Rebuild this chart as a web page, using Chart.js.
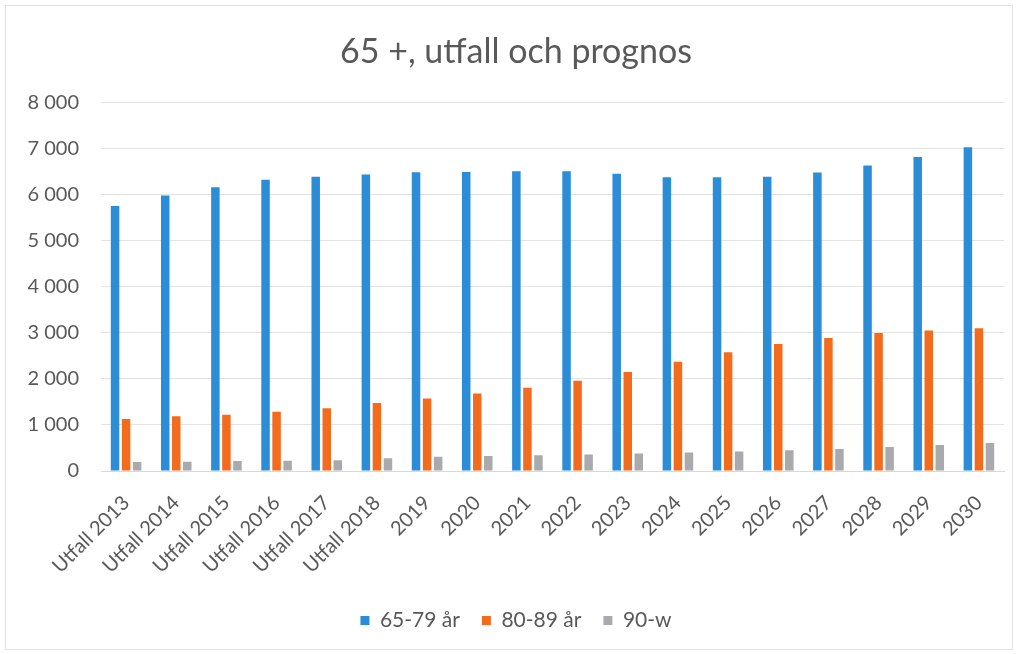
<!DOCTYPE html>
<html>
<head>
<meta charset="utf-8">
<script src="https://cdn.jsdelivr.net/npm/chart.js@4"></script>
<style>
  body { margin: 0; background: #fff; }
  #frame { position: absolute; left: 5px; top: 5px; width: 1008px; height: 645px; border: 1px solid #e2e2e2; box-sizing: border-box; }
</style>
</head>
<body>
<div id="frame"><canvas id="c" width="1006" height="643"></canvas></div>
<script>
// kategorier (år)
const years = ['Utfall 2013', 'Utfall 2014', 'Utfall 2015', 'Utfall 2016', 'Utfall 2017', 'Utfall 2018',
  '2019', '2020', '2021', '2022', '2023', '2024', '2025', '2026', '2027', '2028', '2029', '2030'];
// serier
const age65_79 = [5760, 5985, 6165, 6330, 6395, 6440, 6490, 6495, 6515, 6515, 6460, 6385, 6385, 6395, 6485, 6640, 6820, 7035];
const age80_89 = [1130, 1190, 1220, 1285, 1365, 1475, 1575, 1685, 1810, 1960, 2150, 2375, 2580, 2760, 2890, 3000, 3050, 3100];
const age90w = [196, 203, 218, 225, 233, 276, 312, 327, 342, 356, 378, 400, 421, 450, 479, 523, 566, 610];
const seriesNames = ['65-79 år', '80-89 år', '90-w'];

const textColor = '#595959';
const font = 'Lato, "Open Sans", sans-serif';

function fmt(v) {
  return String(v).replace(/\B(?=(\d{3})+(?!\d))/g, ' ');
}

const ctx = document.getElementById('c');
new Chart(ctx, {
  type: 'bar',
  data: {
    labels: years,
    datasets: [
      { label: seriesNames[0], data: age65_79, backgroundColor: '#2b8cd8' },
      { label: seriesNames[1], data: age80_89, backgroundColor: '#f36c1d' },
      { label: seriesNames[2], data: age90w, backgroundColor: '#aaaaae' }
    ]
  },
  options: {
    responsive: false,
    animation: false,
    categoryPercentage: 0.66,
    barPercentage: 0.77,
    layout: { padding: { left: 22, right: 8, top: 6, bottom: 8 } },
    plugins: {
      title: {
        display: true,
        text: '65 +, utfall och prognos',
        color: textColor,
        font: { family: font, size: 34, weight: 'normal' },
        padding: { top: 20, bottom: 30 }
      },
      legend: {
        position: 'bottom',
        labels: {
          color: textColor,
          font: { family: font, size: 21 },
          boxWidth: 9,
          boxHeight: 9,
          padding: 22
        }
      },
      tooltip: { enabled: false }
    },
    scales: {
      x: {
        grid: { display: false },
        border: { display: true, color: '#d9d9d9' },
        ticks: {
          color: textColor,
          font: { family: font, size: 20 },
          minRotation: 45,
          maxRotation: 45,
          padding: 12
        },
        afterFit: function (scale) {
          scale.paddingLeft = 0;
          scale.height = 117;
        }
      },
      y: {
        min: 0,
        max: 8000,
        grid: { color: '#e3e3e3', drawTicks: false },
        border: { display: false },
        ticks: {
          stepSize: 1000,
          color: textColor,
          font: { family: font, size: 20 },
          padding: 22,
          callback: function (value) { return fmt(value); }
        },
        afterFit: function (scale) {
          scale.width = 73;
        }
      }
    }
  }
});
</script>
</body>
</html>
